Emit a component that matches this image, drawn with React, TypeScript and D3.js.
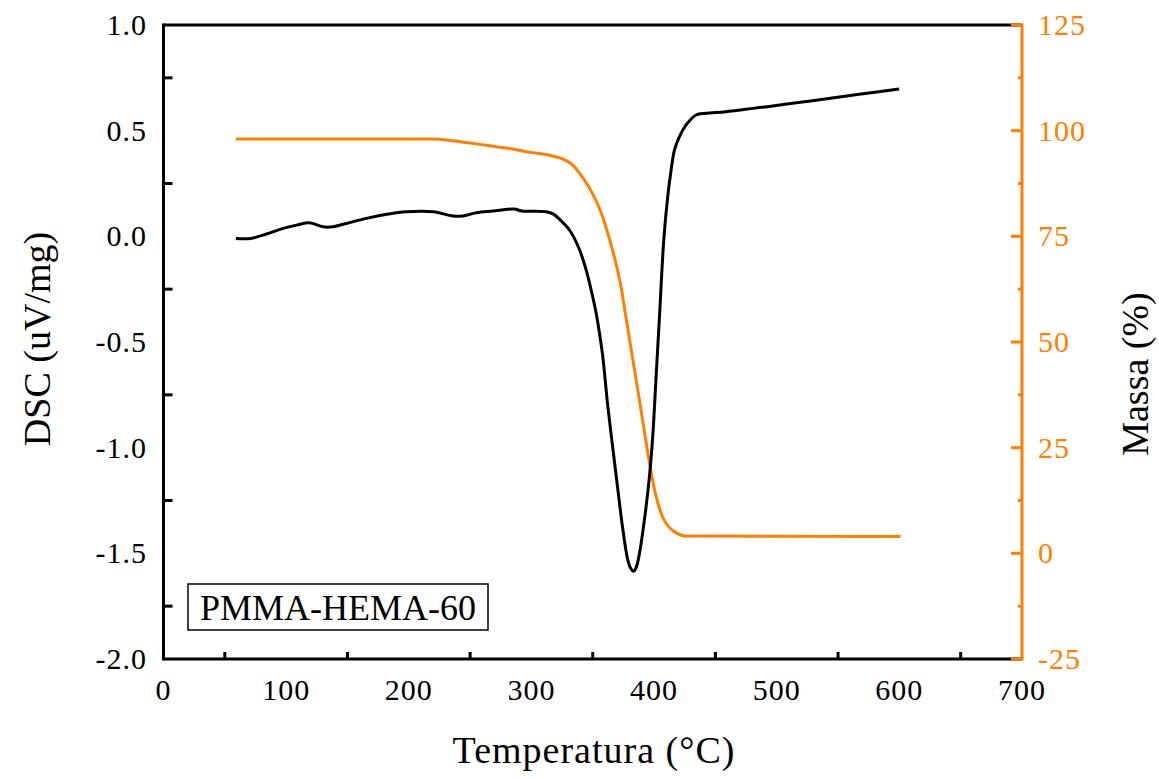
import React from "react";
import * as d3 from "d3";

// ---- data ----
const dscTemp = [59, 71, 84, 95, 108.5, 119, 130, 138, 149, 165.5, 182, 198, 220, 236, 244, 255, 268.6, 286, 292, 312, 318, 323, 331, 339, 344.6, 348.7, 352.8, 355.5, 358.2, 362.2, 366.3, 370.4, 374.5, 378.5, 381, 383.2, 385.5, 388.1, 392.1, 396.2, 398.9, 401.5, 404.5, 407.9, 411.1, 413.9, 416.6, 420.6, 426.1, 434.2, 442.4, 458.7, 496.6, 529.2, 567.2, 599.8];
const dscValue = [-0.01, -0.01, 0.011, 0.033, 0.053, 0.064, 0.045, 0.045, 0.061, 0.085, 0.104, 0.116, 0.116, 0.096, 0.096, 0.112, 0.12, 0.129, 0.12, 0.116, 0.105, 0.08, 0.03, -0.06, -0.159, -0.254, -0.364, -0.459, -0.57, -0.80, -1.0, -1.195, -1.385, -1.53, -1.572, -1.585, -1.565, -1.5, -1.343, -1.138, -0.948, -0.68, -0.37, -0.018, 0.187, 0.314, 0.408, 0.471, 0.527, 0.574, 0.582, 0.59, 0.617, 0.642, 0.672, 0.697];

const massTemp = [59, 218, 236, 247, 262, 274, 286, 296, 307, 317.5, 327, 334, 339, 343, 350, 356.9, 363.6, 369.1, 373.2, 377.2, 381.3, 385.4, 388.1, 393.5, 397.6, 401.7, 407, 415.2, 426.1, 601];
const massValue = [98.0, 98.0, 97.6, 97.2, 96.6, 96.1, 95.6, 95.0, 94.6, 94.0, 93.1, 91.8, 90.0, 88.4, 85.0, 80.6, 74.4, 68.4, 62.8, 55.6, 48.3, 41.0, 36.2, 26.3, 19.2, 13.4, 8.6, 5.4, 4.1, 4.0];

const xTicks = [0, 100, 200, 300, 400, 500, 600, 700];
const xMinorTicks = [50, 150, 250, 350, 450, 550, 650];
const leftTicks = [1.0, 0.5, 0.0, -0.5, -1.0, -1.5, -2.0];
const leftMinorTicks = [0.75, 0.25, -0.25, -0.75, -1.25, -1.75];
const rightTicks = [125, 100, 75, 50, 25, 0, -25];
const rightMinorTicks = [112.5, 87.5, 62.5, 37.5, 12.5, -12.5];

const sampleName = "PMMA-HEMA-60";
const xTitle = "Temperatura (°C)";
const leftTitle = "DSC (uV/mg)";
const rightTitle = "Massa (%)";

const ORANGE = "#ff8000";
const FONT = "'Liberation Serif', 'Times New Roman', serif";

export default function App() {
  const left = 163.5, right = 1022, top = 25, bottom = 659;
  const x = d3.scaleLinear().domain([0, 700]).range([left, right]);
  const yL = d3.scaleLinear().domain([-2, 1]).range([bottom, top]);
  const yR = d3.scaleLinear().domain([-25, 125]).range([bottom, top]);

  const dscPts = dscTemp.map((t, i) => [t, dscValue[i]] as [number, number]);
  const massPts = massTemp.map((t, i) => [t, massValue[i]] as [number, number]);

  const dscLine = d3.line<[number, number]>().x(d => x(d[0])).y(d => yL(d[1])).curve(d3.curveCatmullRom.alpha(0.5));
  const massLine = d3.line<[number, number]>().x(d => x(d[0])).y(d => yR(d[1])).curve(d3.curveMonotoneX);

  return (
    <svg width={1159} height={779} style={{ position: "absolute", left: 0, top: 0, background: "#fff" }} fontFamily={FONT}>
      <rect x={0} y={0} width={1159} height={779} fill="#fff" />
      {/* curves */}
      <path d={massLine(massPts) || ""} fill="none" stroke={ORANGE} strokeWidth={3} />
      <path d={dscLine(dscPts) || ""} fill="none" stroke="#000" strokeWidth={3} />

      {/* frame */}
      <line x1={left} x2={right} y1={top} y2={top} stroke="#000" strokeWidth={3} />
      <line x1={left} x2={right} y1={bottom} y2={bottom} stroke="#000" strokeWidth={3} />
      <line x1={left} x2={left} y1={top - 1.5} y2={bottom + 1.5} stroke="#000" strokeWidth={3} />
      <line x1={right} x2={right} y1={top - 1.5} y2={bottom + 1.5} stroke={ORANGE} strokeWidth={3} />

      {/* bottom ticks */}
      {xMinorTicks.map(t => (
        <line key={"xm" + t} x1={x(t)} x2={x(t)} y1={bottom} y2={bottom - 7} stroke="#000" strokeWidth={3} />
      ))}
      {xTicks.map(t => (
        <text key={"xt" + t} x={x(t)} y={700} fontSize={30} textAnchor="middle" letterSpacing={1} fill="#000">{t}</text>
      ))}

      {/* left ticks */}
      {leftMinorTicks.map(t => (
        <line key={"lm" + t} x1={left} x2={left + 9} y1={yL(t)} y2={yL(t)} stroke="#000" strokeWidth={3} />
      ))}
      {leftTicks.map(t => (
        <text key={"lt" + t} x={147} y={yL(t) + 10} fontSize={30} textAnchor="end" letterSpacing={1} fill="#000">{t.toFixed(1)}</text>
      ))}

      {/* right ticks */}
      {rightTicks.map(t => (
        <line key={"rM" + t} x1={right} x2={right - 11} y1={yR(t)} y2={yR(t)} stroke={ORANGE} strokeWidth={3} />
      ))}
      {rightMinorTicks.map(t => (
        <line key={"rm" + t} x1={right} x2={right - 4} y1={yR(t)} y2={yR(t)} stroke={ORANGE} strokeWidth={3} />
      ))}
      {rightTicks.map(t => (
        <text key={"rt" + t} x={1038} y={yR(t) + 10} fontSize={30} textAnchor="start" letterSpacing={1} fill={ORANGE}>{t}</text>
      ))}

      {/* titles */}
      <text x={594} y={763} fontSize={38} textAnchor="middle" letterSpacing={1} fill="#000">{xTitle}</text>
      <text transform="translate(50,339) rotate(-90)" fontSize={38} textAnchor="middle" fill="#000">{leftTitle}</text>
      <text transform="translate(1148,374) rotate(-90)" fontSize={38} textAnchor="middle" fill="#000">{rightTitle}</text>

      {/* sample label */}
      <rect x={188} y={584} width={300} height={46} fill="#fff" stroke="#000" strokeWidth={1.5} />
      <text x={338} y={620} fontSize={36} textAnchor="middle" fill="#000">{sampleName}</text>
    </svg>
  );
}
